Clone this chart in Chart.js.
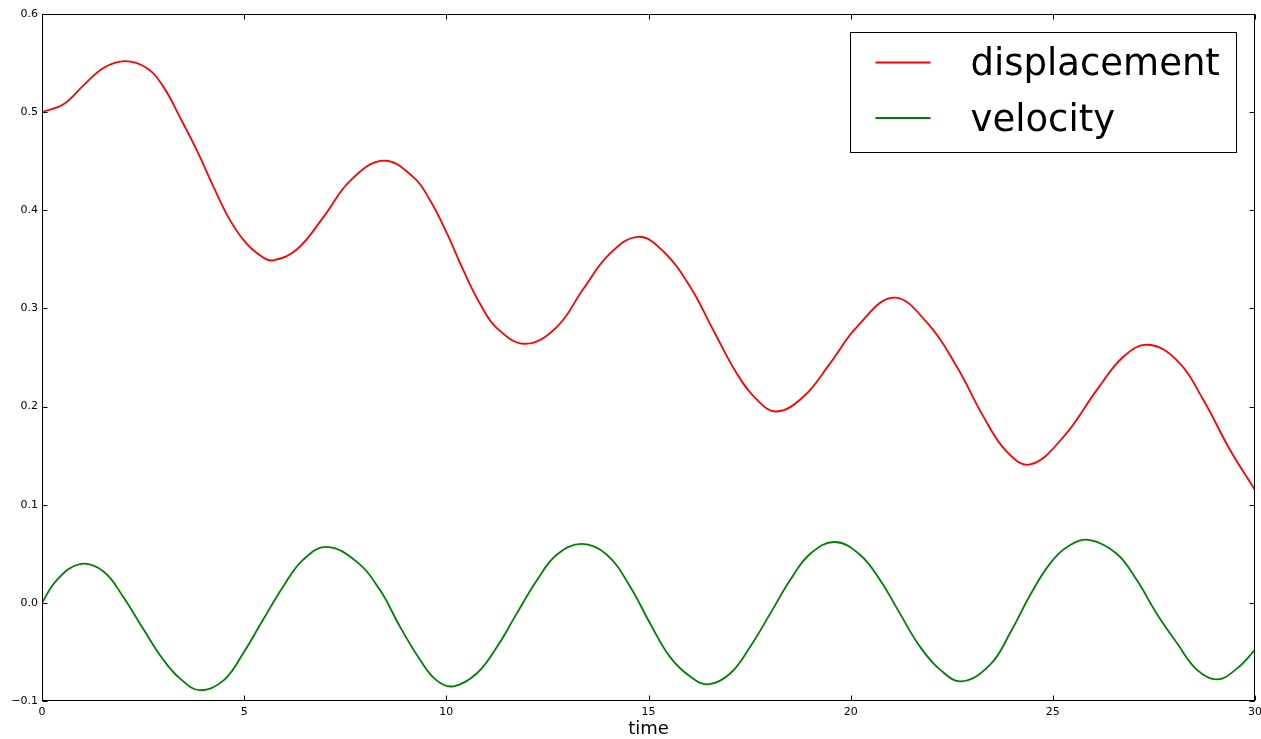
<!DOCTYPE html>
<html>
<head>
<meta charset="utf-8">
<script src="https://cdn.jsdelivr.net/npm/chart.js@4"></script>
<style>
  html, body { margin: 0; padding: 0; background: #fff; }
  canvas { display: block; }
</style>
</head>
<body>
<canvas id="chart" width="1261" height="739"></canvas>
<script>
// values
const dispTime = [0, 0.53, 1.02, 1.52, 2.05, 2.59, 3.0, 3.41, 3.83, 4.24, 4.65, 5.06, 5.47, 5.72, 6.3, 6.96, 7.62, 8.44, 9.18, 9.6, 10.01, 10.42, 10.83, 11.25, 11.95, 12.73, 13.39, 14.05, 14.75, 15.37, 16.03, 16.6, 17.18, 17.68, 18.17, 18.83, 19.49, 20.15, 21.06, 21.9, 22.62, 23.28, 23.86, 24.44, 25.26, 26.09, 26.75, 27.36, 28.07, 28.72, 29.38, 30];
const dispValues = [0.5, 0.508, 0.527, 0.545, 0.552, 0.545, 0.526, 0.495, 0.461, 0.424, 0.390, 0.366, 0.352, 0.349, 0.360, 0.393, 0.430, 0.4505, 0.434, 0.410, 0.377, 0.339, 0.305, 0.280, 0.264, 0.281, 0.320, 0.356, 0.373, 0.358, 0.322, 0.278, 0.234, 0.207, 0.195, 0.210, 0.244, 0.281, 0.311, 0.285, 0.241, 0.190, 0.154, 0.141, 0.169, 0.217, 0.251, 0.263, 0.247, 0.207, 0.156, 0.115];

const velTime = [0, 0.36, 0.94, 1.52, 2.01, 2.51, 3.0, 3.41, 3.91, 4.49, 4.98, 5.47, 5.97, 6.46, 7.04, 7.78, 8.36, 8.85, 9.35, 9.76, 10.17, 10.75, 11.25, 11.74, 12.24, 12.73, 13.35, 13.97, 14.54, 15.04, 15.53, 16.03, 16.48, 17.02, 17.51, 18.01, 18.5, 19.0, 19.61, 20.23, 20.73, 21.22, 21.72, 22.21, 22.75, 23.45, 23.94, 24.44, 24.93, 25.43, 25.92, 26.58, 27.08, 27.57, 28.07, 28.56, 29.06, 29.55, 30];
const velValues = [0, 0.023, 0.0395, 0.032, 0.006, -0.027, -0.058, -0.077, -0.089, -0.079, -0.051, -0.017, 0.017, 0.044, 0.057, 0.042, 0.013, -0.024, -0.058, -0.079, -0.085, -0.072, -0.045, -0.011, 0.023, 0.049, 0.060, 0.049, 0.017, -0.021, -0.055, -0.075, -0.083, -0.072, -0.045, -0.011, 0.023, 0.050, 0.062, 0.049, 0.023, -0.011, -0.045, -0.068, -0.080, -0.063, -0.031, 0.008, 0.040, 0.059, 0.064, 0.050, 0.023, -0.011, -0.041, -0.068, -0.078, -0.067, -0.048];

const seriesNames = ["displacement", "velocity"];
const seriesColors = ["#ff0000", "#008000"];
const xTitle = "time";

const FONT = "DejaVu Sans";

function toPoints(xs, ys) {
  return xs.map((t, i) => ({ x: t, y: ys[i] }));
}

// matplotlib-style frame with inward ticks on all four sides
const frameTicks = {
  id: "frameTicks",
  afterDatasetsDraw(chart) {
    const { ctx, chartArea: a, scales: { x, y } } = chart;
    const L = Math.round(a.left) + 0.5, R = Math.round(a.right) - 0.5;
    const T = Math.round(a.top) + 0.5, B = Math.round(a.bottom) - 0.5;
    ctx.save();
    ctx.strokeStyle = "#000";
    ctx.lineWidth = 1;
    ctx.strokeRect(L, T, R - L, B - T);
    ctx.beginPath();
    x.ticks.forEach(t => {
      const px = Math.round(x.getPixelForValue(t.value)) + 0.5;
      ctx.moveTo(px, B); ctx.lineTo(px, B - 5);
      ctx.moveTo(px, T); ctx.lineTo(px, T + 5);
    });
    y.ticks.forEach(t => {
      const py = Math.round(y.getPixelForValue(t.value)) + 0.5;
      ctx.moveTo(L, py); ctx.lineTo(L + 5, py);
      ctx.moveTo(R, py); ctx.lineTo(R - 5, py);
    });
    ctx.stroke();
    ctx.restore();
  }
};

// legend box in the upper right of the plot
const boxLegend = {
  id: "boxLegend",
  afterDraw(chart) {
    const { ctx, chartArea: a } = chart;
    const right = Math.round(a.right) - 18.5, top = Math.round(a.top) + 18.5;
    const w = 386, h = 120;
    const left = right - w;
    ctx.save();
    ctx.fillStyle = "#fff";
    ctx.fillRect(left, top, w, h);
    ctx.strokeStyle = "#000";
    ctx.lineWidth = 1;
    ctx.strokeRect(left, top, w, h);
    ctx.font = "37px '" + FONT + "'";
    ctx.textBaseline = "alphabetic";
    ctx.textAlign = "left";
    chart.data.datasets.forEach((ds, i) => {
      const ly = top + 30 + i * 55.5;
      ctx.strokeStyle = ds.borderColor;
      ctx.lineWidth = 2;
      ctx.beginPath();
      ctx.moveTo(left + 25, ly);
      ctx.lineTo(left + 80, ly);
      ctx.stroke();
      ctx.fillStyle = "#000";
      ctx.fillText(ds.label, left + 120, ly + 12.5);
    });
    ctx.restore();
  }
};

const chart = new Chart(document.getElementById("chart").getContext("2d"), {
  type: "line",
  data: {
    datasets: [
      {
        label: seriesNames[0],
        data: toPoints(dispTime, dispValues),
        borderColor: seriesColors[0],
        borderWidth: 1.8,
        pointRadius: 0,
        tension: 0.4,
        fill: false
      },
      {
        label: seriesNames[1],
        data: toPoints(velTime, velValues),
        borderColor: seriesColors[1],
        borderWidth: 1.8,
        pointRadius: 0,
        tension: 0.4,
        fill: false
      }
    ]
  },
  options: {
    responsive: false,
    animation: false,
    layout: { padding: { top: 14, right: 0, left: 0, bottom: 0 } },
    plugins: {
      legend: { display: false },
      tooltip: { enabled: false }
    },
    scales: {
      x: {
        type: "linear",
        min: 0,
        max: 30,
        grid: { display: false, drawTicks: false },
        border: { display: false },
        ticks: {
          stepSize: 5,
          padding: 5,
          color: "#000",
          font: { family: FONT, size: 11 },
          maxRotation: 0,
          callback: v => String(v)
        },
        title: {
          display: true,
          text: xTitle,
          color: "#000",
          font: { family: FONT, size: 18, lineHeight: 1.05 },
          padding: { top: 0, bottom: 0 }
        },
        afterFit: s => { s.height = 38; s.paddingRight = 6; }
      },
      y: {
        min: -0.1,
        max: 0.6,
        grid: { display: false, drawTicks: false },
        border: { display: false },
        ticks: {
          stepSize: 0.1,
          padding: 4,
          color: "#000",
          font: { family: FONT, size: 11 },
          callback: v => (v < -1e-9 ? "\u2212" : "") + Math.abs(v).toFixed(1)
        },
        afterFit: s => { s.width = 42; }
      }
    }
  },
  plugins: [frameTicks, boxLegend]
});
</script>
</body>
</html>
